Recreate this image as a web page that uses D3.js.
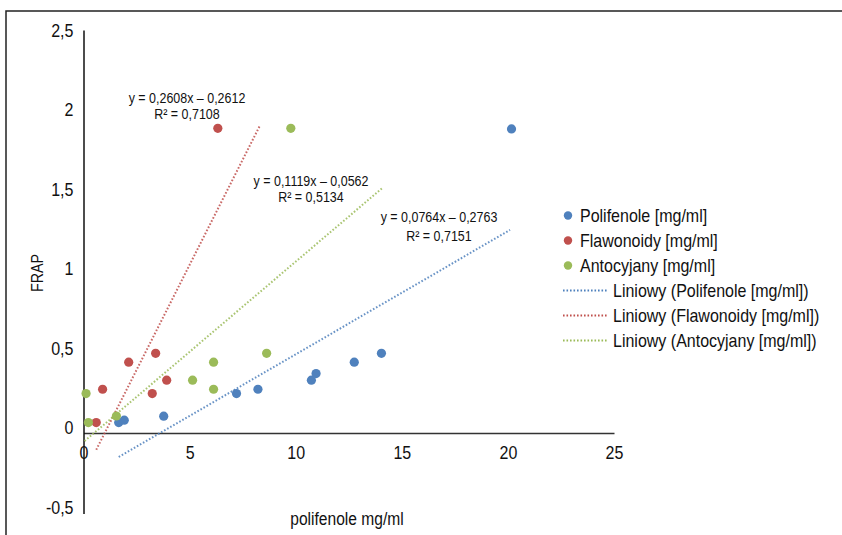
<!DOCTYPE html>
<html>
<head>
<meta charset="utf-8">
<script src="https://cdn.jsdelivr.net/npm/d3@7"></script>
<style>
  html, body { margin: 0; padding: 0; background: #fff; }
  svg { display: block; }
  text { font-family: "Liberation Sans", Arial, sans-serif; fill: #111; }
</style>
</head>
<body>
<svg id="chart" width="842" height="535"></svg>
<script>
// ---- data ----
const seriesNames = ["Polifenole [mg/ml]", "Flawonoidy [mg/ml]", "Antocyjany [mg/ml]"];
const trendNames = ["Liniowy (Polifenole [mg/ml])", "Liniowy (Flawonoidy [mg/ml])", "Liniowy (Antocyjany [mg/ml])"];
const colors = ["#4F81BD", "#C0504D", "#9BBB59"];

const polifenoleX = [1.66, 1.92, 3.78, 7.21, 8.22, 10.74, 10.96, 12.76, 14.04, 20.17];
const polifenoleY = [0.064, 0.079, 0.104, 0.244, 0.271, 0.327, 0.368, 0.439, 0.494, 1.886];
const flawonoidyX = [0.60, 0.90, 2.13, 3.24, 3.40, 3.92, 6.33];
const flawonoidyY = [0.064, 0.271, 0.439, 0.244, 0.494, 0.327, 1.89];
const antocyjanyX = [0.12, 0.23, 1.55, 5.14, 6.13, 6.13, 8.63, 9.77];
const antocyjanyY = [0.244, 0.064, 0.105, 0.327, 0.439, 0.271, 0.494, 1.89];

// trendline equations (slope, intercept) as printed, and visible x extent of each dotted line
const trendSlope = [0.0764, 0.2608, 0.1119];
const trendIntercept = [-0.2763, -0.2612, -0.0562];
const trendXStart = [1.66, 0.60, 0.05];
const trendXEnd = [20.1, 8.31, 14.1];
const equationText = ["y = 0,0764x – 0,2763", "y = 0,2608x – 0,2612", "y = 0,1119x – 0,0562"];
const r2Text = ["R² = 0,7151", "R² = 0,7108", "R² = 0,5134"];

const xTicks = [0, 5, 10, 15, 20, 25];
const yTicks = [-0.5, 0, 0.5, 1, 1.5, 2, 2.5];
const xTitle = "polifenole mg/ml";
const yTitle = "FRAP";

// ---- layout ----
const svg = d3.select("#chart");
const x = d3.scaleLinear().domain([0, 25]).range([83.5, 614]);
const y = d3.scaleLinear().domain([-0.5, 2.5]).range([513.5, 30]);
const fmt = v => String(v).replace(".", ",");
const FONT = '"Liberation Sans", Arial, sans-serif';
const SQUEEZE = 0.89;

// horizontally condense text to imitate the narrow font of the original
function condense(sel, factor) {
  sel.each(function () {
    const w = this.getComputedTextLength();
    d3.select(this).attr("textLength", (w * factor).toFixed(1)).attr("lengthAdjust", "spacingAndGlyphs");
  });
}

// outer frame
svg.append("rect").attr("x", 6).attr("y", 11).attr("width", 900).attr("height", 600)
  .attr("fill", "none").attr("stroke", "#222").attr("stroke-width", 1.5);

// axes
const xAxis = d3.axisBottom(x).tickValues(xTicks).tickFormat(fmt).tickSize(0).tickPadding(0);
const gx = svg.append("g").attr("transform", `translate(0,${y(0)})`).call(xAxis);
gx.select(".domain").attr("stroke", "#333").attr("stroke-width", 1.5);
gx.selectAll(".tick text").attr("dy", null).attr("y", 26).attr("font-size", 18)
  .style("font-family", FONT).attr("fill", "#111");

const yAxis = d3.axisLeft(y).tickValues(yTicks).tickFormat(fmt).tickSize(0).tickPadding(0);
const gy = svg.append("g").attr("transform", `translate(${x(0)},0)`).call(yAxis);
gy.select(".domain").attr("stroke", "#111").attr("stroke-width", 1.5);
gy.selectAll(".tick text").attr("x", -10).attr("dy", "0.35em").attr("font-size", 18)
  .style("font-family", FONT).attr("fill", "#111")
  .attr("transform", d => `translate(0,${-(2.5 - d) * 2.2})`);

// axis titles
svg.append("text").attr("transform", `translate(43,273) rotate(-90)`).attr("text-anchor", "middle")
  .attr("font-size", 16).text(yTitle);
svg.append("text").attr("x", 347).attr("y", 525).attr("text-anchor", "middle")
  .attr("font-size", 17.5).text(xTitle);

// trendlines
for (let i = 0; i < 3; i++) {
  const pts = [trendXStart[i], trendXEnd[i]].map(v => [v, trendSlope[i] * v + trendIntercept[i]]);
  svg.append("line")
    .attr("x1", x(pts[0][0])).attr("y1", y(pts[0][1]))
    .attr("x2", x(pts[1][0])).attr("y2", y(pts[1][1]))
    .attr("stroke", colors[i]).attr("stroke-width", 2)
    .attr("stroke-dasharray", "1.6 1.9").attr("opacity", 0.85);
}

// points
const sets = [[polifenoleX, polifenoleY], [flawonoidyX, flawonoidyY], [antocyjanyX, antocyjanyY]];
sets.forEach((s, i) => {
  svg.append("g").selectAll("circle").data(s[0].map((v, j) => [v, s[1][j]])).join("circle")
    .attr("cx", d => x(d[0])).attr("cy", d => y(d[1])).attr("r", 4.6).attr("fill", colors[i]);
});

// equation labels
const eqPos = [[439, 217, 236], [187, 98, 114], [311, 181, 197]];
for (let i = 0; i < 3; i++) {
  const g = svg.append("g").attr("font-size", 14).attr("text-anchor", "middle");
  g.append("text").attr("x", eqPos[i][0]).attr("y", eqPos[i][1]).attr("dy", "0.35em").text(equationText[i]);
  g.append("text").attr("x", eqPos[i][0]).attr("y", eqPos[i][2]).attr("dy", "0.35em").text(r2Text[i]);
}

// condense all non-legend text
condense(svg.selectAll("text"), SQUEEZE);

// legend (condensed via a horizontal scale transform)
const lg = svg.append("g").attr("font-size", 18);
const ly0 = 215.5, lstep = 25;
seriesNames.forEach((n, i) => {
  const yy = ly0 + i * lstep;
  lg.append("circle").attr("cx", 568).attr("cy", yy).attr("r", 4.2).attr("fill", colors[i]);
  lg.append("text").attr("transform", `translate(580,${yy}) scale(${SQUEEZE},1)`)
    .attr("dy", "0.35em").text(n);
});
trendNames.forEach((n, i) => {
  const yy = ly0 + (i + 3) * lstep;
  lg.append("line").attr("x1", 563).attr("x2", 607).attr("y1", yy).attr("y2", yy)
    .attr("stroke", colors[i]).attr("stroke-width", 2).attr("stroke-dasharray", "1.6 1.9");
  lg.append("text").attr("transform", `translate(613,${yy}) scale(${SQUEEZE},1)`)
    .attr("dy", "0.35em").text(n);
});
</script>
</body>
</html>
